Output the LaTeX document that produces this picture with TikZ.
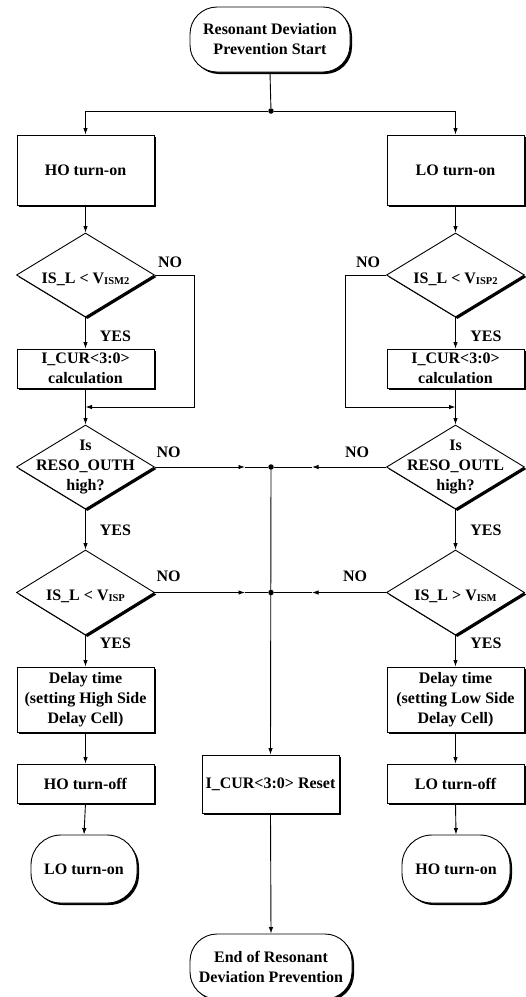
\documentclass[tikz,border=0pt]{standalone}
\usepackage{fontspec}
\setmainfont{Liberation Serif}
\usetikzlibrary{arrows.meta,shapes.geometric,shadows}
\newcommand\sbs[1]{\raisebox{-1.5pt}{\fontsize{10.5}{10}\selectfont #1}}
\begin{document}
\begin{tikzpicture}[x=1pt,y=-1pt,
  font=\fontsize{16}{20}\selectfont\bfseries,
  line width=0.9pt,
  shd/.style={drop shadow={shadow xshift=2pt,shadow yshift=-2pt,opacity=1,fill=black}},
  box/.style={draw,fill=white,shd,rectangle,inner sep=0pt,align=center,minimum width=137pt},
  dia/.style={draw,fill=white,shd,diamond,inner sep=0pt,minimum width=138pt,minimum height=84pt},
  term/.style={draw,fill=white,shd,rectangle,rounded corners=27pt,inner sep=0pt,align=center},
  txt/.style={inner sep=0pt,align=center},
  lab/.style={inner sep=0pt},
  arr/.style={-{Latex[length=6.5pt,width=4.5pt]}},
  dot/.style={circle,fill=black,inner sep=0pt,minimum size=5.5pt}]
\useasboundingbox (0,0) rectangle (526,997);

% start
\node[term,minimum width=160pt,minimum height=65pt] (start) at (270,39.5) {Resonant Deviation\\Prevention Start};
\node[dot] (j0) at (271,111) {};

% left column
\node[box,minimum height=70pt] (hon) at (85.5,170) {HO turn-on};
\node[dia] (d1) at (85.5,275) {};
\node[txt] (d1t) at (85.5,279) {IS\_L < V\sbs{ISM2}};
\node[box,minimum height=39pt] (c1) at (85.5,368.5) {I\_CUR<3:0>\\calculation};
\node[dia] (d2) at (85.5,467) {};
\node[txt] (d2t) at (85.5,467) {Is\\RESO\_OUTH\\high?};
\node[dia,minimum height=85pt] (d3) at (85.5,592.5) {};
\node[txt] (d3t) at (85.5,596) {IS\_L < V\sbs{ISP}};
\node[box,minimum height=65pt] (dl) at (85.5,699.5) {Delay time\\(setting High Side\\Delay Cell)};
\node[box,minimum height=39pt] (hoff) at (85.5,783.5) {HO turn-off};
\node[term,minimum width=106pt,minimum height=68pt,rounded corners=30pt] (lterm) at (84,869) {LO turn-on};

% right column
\node[box,minimum height=70pt] (lon) at (455.5,170) {LO turn-on};
\node[dia] (d1r) at (455.5,275) {};
\node[txt] (d1rt) at (455.5,279) {IS\_L < V\sbs{ISP2}};
\node[box,minimum height=39pt] (c1r) at (455.5,368.5) {I\_CUR<3:0>\\calculation};
\node[dia] (d2r) at (455.5,467) {};
\node[txt] (d2rt) at (455.5,467) {Is\\RESO\_OUTL\\high?};
\node[dia,minimum height=85pt] (d3r) at (455.5,592.5) {};
\node[txt] (d3rt) at (455.5,596) {IS\_L > V\sbs{ISM}};
\node[box,minimum height=65pt] (dlr) at (455.5,699.5) {Delay time\\(setting Low Side\\Delay Cell)};
\node[box,minimum height=39pt] (loff) at (455.5,783.5) {LO turn-off};
\node[term,minimum width=108pt,minimum height=68pt,rounded corners=30pt] (rterm) at (456,869) {HO turn-on};

% middle
\node[dot] (j1) at (271,467) {};
\node[dot] (j2) at (271,592.5) {};
\node[box,minimum height=58pt] (reset) at (270.5,784) {I\_CUR<3:0> Reset};
\node[term,minimum width=162pt,minimum height=65pt] (end) at (271,966.5) {End of Resonant\\Deviation Prevention};

% labels
\node[lab] (no1) at (170,262) {NO};
\node[lab] (no1r) at (368,262) {NO};
\node[lab] (yes1) at (115.5,336) {YES};
\node[lab] (yes1r) at (486,336) {YES};
\node[lab] (no2) at (168.5,452) {NO};
\node[lab] (no2r) at (357,452) {NO};
\node[lab] (yes2) at (115.5,530) {YES};
\node[lab] (yes2r) at (486,530) {YES};
\node[lab] (no3) at (168.5,576) {NO};
\node[lab] (no3r) at (355,576) {NO};
\node[lab] (yes3) at (115.5,643) {YES};
\node[lab] (yes3r) at (486,643) {YES};

% coordinates
\coordinate (n1) at (194,275);
\coordinate (m1) at (85.5,407);
\coordinate (n1r) at (345,275);
\coordinate (m1r) at (455.5,407);
\coordinate (a2) at (245,467);
\coordinate (a2r) at (312,467);
\coordinate (a3) at (245,592.5);
\coordinate (a3r) at (312,592.5);

% connectors
\draw (start.south) -- (j0);
\draw[arr] (j0) -| (hon.north);
\draw[arr] (j0) -| (lon.north);
\draw[arr] (hon.south) -- (d1.north);
\draw[arr] (lon.south) -- (d1r.north);
\draw[arr] (d1.south) -- (c1.north);
\draw[arr] (d1r.south) -- (c1r.north);
\draw[arr] (c1.south) -- (d2.north);
\draw[arr] (c1r.south) -- (d2r.north);
\draw[arr] (d1.east) -- (n1) |- (m1);
\draw[arr] (d1r.west) -- (n1r) |- (m1r);
\draw[arr] (d2.south) -- (d3.north);
\draw[arr] (d2r.south) -- (d3r.north);
\draw[arr] (d3.south) -- (dl.north);
\draw[arr] (d3r.south) -- (dlr.north);
\draw[arr] (dl.south) -- (hoff.north);
\draw[arr] (dlr.south) -- (loff.north);
\draw[arr] (hoff.south) -- (lterm.north);
\draw[arr] (loff.south) -- (rterm.north);
\draw[arr] (d2.east) -- (a2);
\draw (a2) -- (j1);
\draw[arr] (d2r.west) -- (a2r);
\draw (a2r) -- (j1);
\draw[arr] (d3.east) -- (a3);
\draw (a3) -- (j2);
\draw[arr] (d3r.west) -- (a3r);
\draw (a3r) -- (j2);
\draw[arr] (j1) -- (reset.north);
\draw[arr] (reset.south) -- (end.north);
\end{tikzpicture}
\end{document}
